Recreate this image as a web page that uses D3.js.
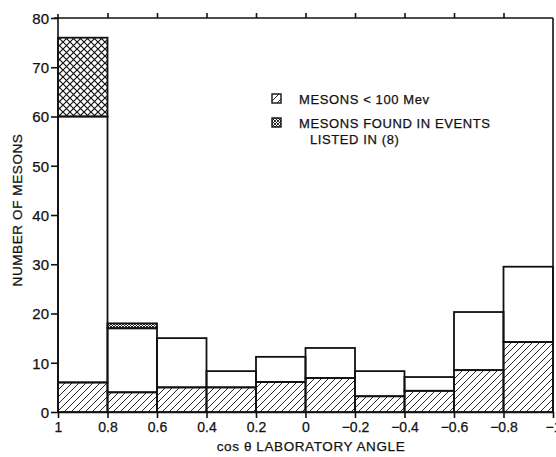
<!DOCTYPE html>
<html>
<head>
<meta charset="utf-8">
<script src="https://cdn.jsdelivr.net/npm/d3@7"></script>
<style>
  body { margin: 0; background: #fff; }
  svg { display: block; }
  text { font-family: "Liberation Sans", Arial, sans-serif; fill: #111; stroke: #111; stroke-width: 0.25px; }
</style>
</head>
<body>
<div id="chart"></div>
<script>
// bin edges of cos(theta), left to right as drawn
const binEdges = [1, 0.8, 0.6, 0.4, 0.2, 0, -0.2, -0.4, -0.6, -0.8, -1];
// all mesons in each bin (open bar top)
const allMesons = [60, 17, 15, 8.3, 11.2, 13, 8.3, 7.1, 20.3, 29.5];
// mesons < 100 Mev (hatched part)
const lowMesons = [6, 4, 5, 5, 6.1, 6.9, 3.2, 4.3, 8.5, 14.2];
// mesons found in events listed in (8), stacked on top
const eventMesons = [16, 1, 0, 0, 0, 0, 0, 0, 0, 0];
const yTicks = [0, 10, 20, 30, 40, 50, 60, 70, 80];
const legendLabels = ['MESONS < 100 Mev', 'MESONS FOUND IN EVENTS', 'LISTED IN (8)'];

const width = 556, height = 457;
const ink = '#111';

const svg = d3.select('#chart').append('svg')
  .attr('width', width)
  .attr('height', height);

const x = d3.scaleLinear().domain([1, -1]).range([58, 553]);
const y = d3.scaleLinear().domain([0, 80]).range([412, 18]);

// patterns
const defs = svg.append('defs');

const hatch = defs.append('pattern')
  .attr('id', 'hatch')
  .attr('patternUnits', 'userSpaceOnUse')
  .attr('width', 7).attr('height', 7);
hatch.append('path')
  .attr('d', 'M-1,8 L8,-1 M-4,4 L4,-4 M3,11 L11,3')
  .attr('stroke', ink).attr('stroke-width', 0.9);

const cross = defs.append('pattern')
  .attr('id', 'cross')
  .attr('patternUnits', 'userSpaceOnUse')
  .attr('width', 7).attr('height', 7);
cross.append('path')
  .attr('d', 'M0,0 L7,7 M7,0 L0,7')
  .attr('stroke', ink).attr('stroke-width', 1.2);

const fine = defs.append('pattern')
  .attr('id', 'fine')
  .attr('patternUnits', 'userSpaceOnUse')
  .attr('width', 3).attr('height', 3);
fine.append('path')
  .attr('d', 'M0,0 L3,3 M3,0 L0,3')
  .attr('stroke', ink).attr('stroke-width', 0.9);

// bars
const bins = allMesons.map((d, i) => ({
  x0: binEdges[i],
  x1: binEdges[i + 1],
  all: d,
  low: lowMesons[i],
  extra: eventMesons[i],
}));

const bars = svg.append('g');

bars.selectAll('.low')
  .data(bins)
  .join('rect')
  .attr('class', 'low')
  .attr('x', (d) => x(d.x0))
  .attr('width', (d) => x(d.x1) - x(d.x0))
  .attr('y', (d) => y(d.low))
  .attr('height', (d) => y(0) - y(d.low))
  .attr('fill', 'url(#hatch)')
  .attr('stroke', ink).attr('stroke-width', 1.8);

bars.selectAll('.open')
  .data(bins)
  .join('rect')
  .attr('class', 'open')
  .attr('x', (d) => x(d.x0))
  .attr('width', (d) => x(d.x1) - x(d.x0))
  .attr('y', (d) => y(d.all))
  .attr('height', (d) => y(d.low) - y(d.all))
  .attr('fill', 'none')
  .attr('stroke', ink).attr('stroke-width', 1.8);

bars.selectAll('.extra')
  .data(bins.filter((d) => d.extra > 0))
  .join('rect')
  .attr('class', 'extra')
  .attr('x', (d) => x(d.x0))
  .attr('width', (d) => x(d.x1) - x(d.x0))
  .attr('y', (d) => y(d.all + d.extra))
  .attr('height', (d) => y(d.all) - y(d.all + d.extra))
  .attr('fill', (d) => (d.extra > 5 ? 'url(#cross)' : 'url(#fine)'))
  .attr('stroke', ink).attr('stroke-width', 1.8);

// frame: top and right
svg.append('line')
  .attr('x1', x(1) - 4).attr('x2', x(-1))
  .attr('y1', y(80)).attr('y2', y(80))
  .attr('stroke', ink).attr('stroke-width', 1.3);
svg.append('line')
  .attr('x1', x(-1)).attr('x2', x(-1))
  .attr('y1', y(80)).attr('y2', y(0))
  .attr('stroke', ink).attr('stroke-width', 1.6);

// axes
const fmt = (d) => (d < 0 ? '\u2212' : '') + String(Math.abs(d));

const yAxis = svg.append('g')
  .attr('transform', `translate(${x(1)},0)`)
  .call(d3.axisLeft(y).tickValues(yTicks).tickSize(7).tickPadding(2).tickSizeOuter(0));
yAxis.select('.domain').attr('d', `M0,${y(0)}V${y(80) - 4}`);

const xAxis = svg.append('g')
  .attr('transform', `translate(0,${y(0)})`)
  .call(d3.axisBottom(x).tickValues(binEdges).tickFormat(fmt).tickSize(6).tickPadding(4).tickSizeOuter(0));

svg.append('g')
  .attr('transform', `translate(0,${y(80)})`)
  .call(d3.axisTop(x).tickValues(binEdges.slice(1, -1)).tickFormat('').tickSize(5).tickSizeOuter(0))
  .select('.domain').remove();

svg.selectAll('.domain, .tick line')
  .attr('stroke', ink).attr('stroke-width', 1.6);
yAxis.selectAll('.tick text')
  .style('font-size', '15px').attr('dy', '0.36em');
xAxis.selectAll('.tick text')
  .style('font-size', '14px');

// axis titles
svg.append('text')
  .attr('x', 311).attr('y', 451)
  .attr('text-anchor', 'middle')
  .style('font-size', '13.5px')
  .style('letter-spacing', '0.6px')
  .text('cos θ LABORATORY ANGLE');

svg.append('text')
  .attr('transform', 'translate(22,210) rotate(-90)')
  .attr('text-anchor', 'middle')
  .style('font-size', '13.5px')
  .style('letter-spacing', '0.6px')
  .text('NUMBER OF MESONS');

// legend
const legend = svg.append('g').attr('transform', 'translate(272,94)');
legend.append('rect')
  .attr('width', 9).attr('height', 9)
  .attr('fill', 'url(#hatch)').attr('stroke', ink).attr('stroke-width', 1.4);
legend.append('rect')
  .attr('y', 24).attr('width', 9).attr('height', 9)
  .attr('fill', 'url(#fine)').attr('stroke', ink).attr('stroke-width', 1.4);

legend.selectAll('.lab')
  .data(legendLabels)
  .join('text')
  .attr('class', 'lab')
  .attr('x', (d, i) => (i === 2 ? 38 : 27))
  .attr('y', (d, i) => [10, 34, 50][i])
  .style('font-size', '13px')
  .style('letter-spacing', '0.6px')
  .text((d) => d);
</script>
</body>
</html>
